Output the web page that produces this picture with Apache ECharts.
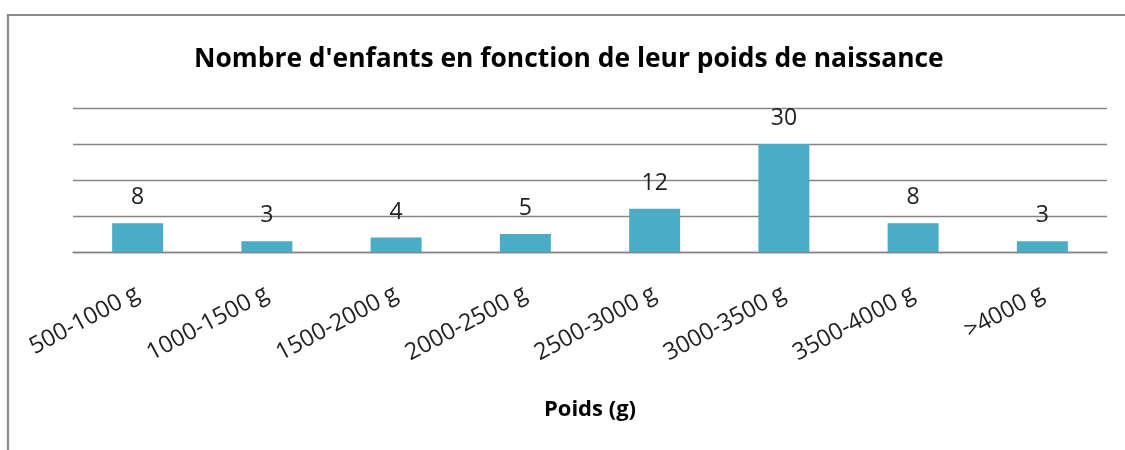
<!DOCTYPE html>
<html>
<head>
<meta charset="utf-8">
<title>Nombre d'enfants en fonction de leur poids de naissance</title>
<script src="https://cdn.jsdelivr.net/npm/echarts@6/dist/echarts.min.js"></script>
<style>
  html, body { margin: 0; padding: 0; background: #fff; }
  #chart { width: 1125px; height: 450px; }
</style>
</head>
<body>
<div id="chart"></div>
<script>
// classes de poids (g) et nombre d'enfants
var categories = ['500-1000 g', '1000-1500 g', '1500-2000 g', '2000-2500 g',
                  '2500-3000 g', '3000-3500 g', '3500-4000 g', '>4000 g'];
var nbEnfants = [8, 3, 4, 5, 12, 30, 8, 3];

var fontFamily = '"Open Sans", "Noto Sans", sans-serif';

var myChart = echarts.init(document.getElementById('chart'));
var option = {
    backgroundColor: '#fff',
    animation: false,
    title: {
        text: "Nombre d'enfants en fonction de leur poids de naissance",
        left: 194,
        top: 46,
        padding: 0,
        textStyle: {
            fontFamily: fontFamily,
            fontSize: 26.4,
            fontWeight: 'bold',
            color: '#000'
        }
    },
    graphic: [
        {
            type: 'rect',
            shape: { x: 8, y: 15, width: 1400, height: 700 },
            style: { fill: null, stroke: '#8a8a8a', lineWidth: 2.2 },
            silent: true
        }
    ],
    grid: {
        left: 73,
        right: 18,
        top: 108,
        bottom: 198
    },
    xAxis: {
        type: 'category',
        data: categories,
        name: 'Poids (g)',
        nameLocation: 'middle',
        nameGap: 147,
        nameTextStyle: {
            fontFamily: fontFamily,
            fontSize: 22,
            fontWeight: 'bold',
            color: '#000'
        },
        axisLine: { lineStyle: { color: '#868686', width: 1.3 } },
        axisTick: { length: 8, lineStyle: { color: '#868686', width: 1.3 } },
        axisLabel: {
            rotate: 28,
            margin: 40,
            interval: 0,
            fontFamily: fontFamily,
            fontSize: 23.5,
            color: '#222'
        }
    },
    yAxis: {
        type: 'value',
        min: 0,
        max: 40,
        interval: 10,
        axisLine: { show: false },
        axisTick: { show: false },
        axisLabel: { show: false },
        splitLine: { lineStyle: { color: '#868686', width: 1.3 } }
    },
    series: [
        {
            name: "Nombre d'enfants",
            type: 'bar',
            data: nbEnfants,
            barWidth: 51,
            itemStyle: { color: '#4bacc6' },
            label: {
                show: true,
                position: 'top',
                distance: 14,
                fontFamily: fontFamily,
                fontSize: 23,
                color: '#222'
            }
        }
    ]
};
myChart.setOption(option);
</script>
</body>
</html>
